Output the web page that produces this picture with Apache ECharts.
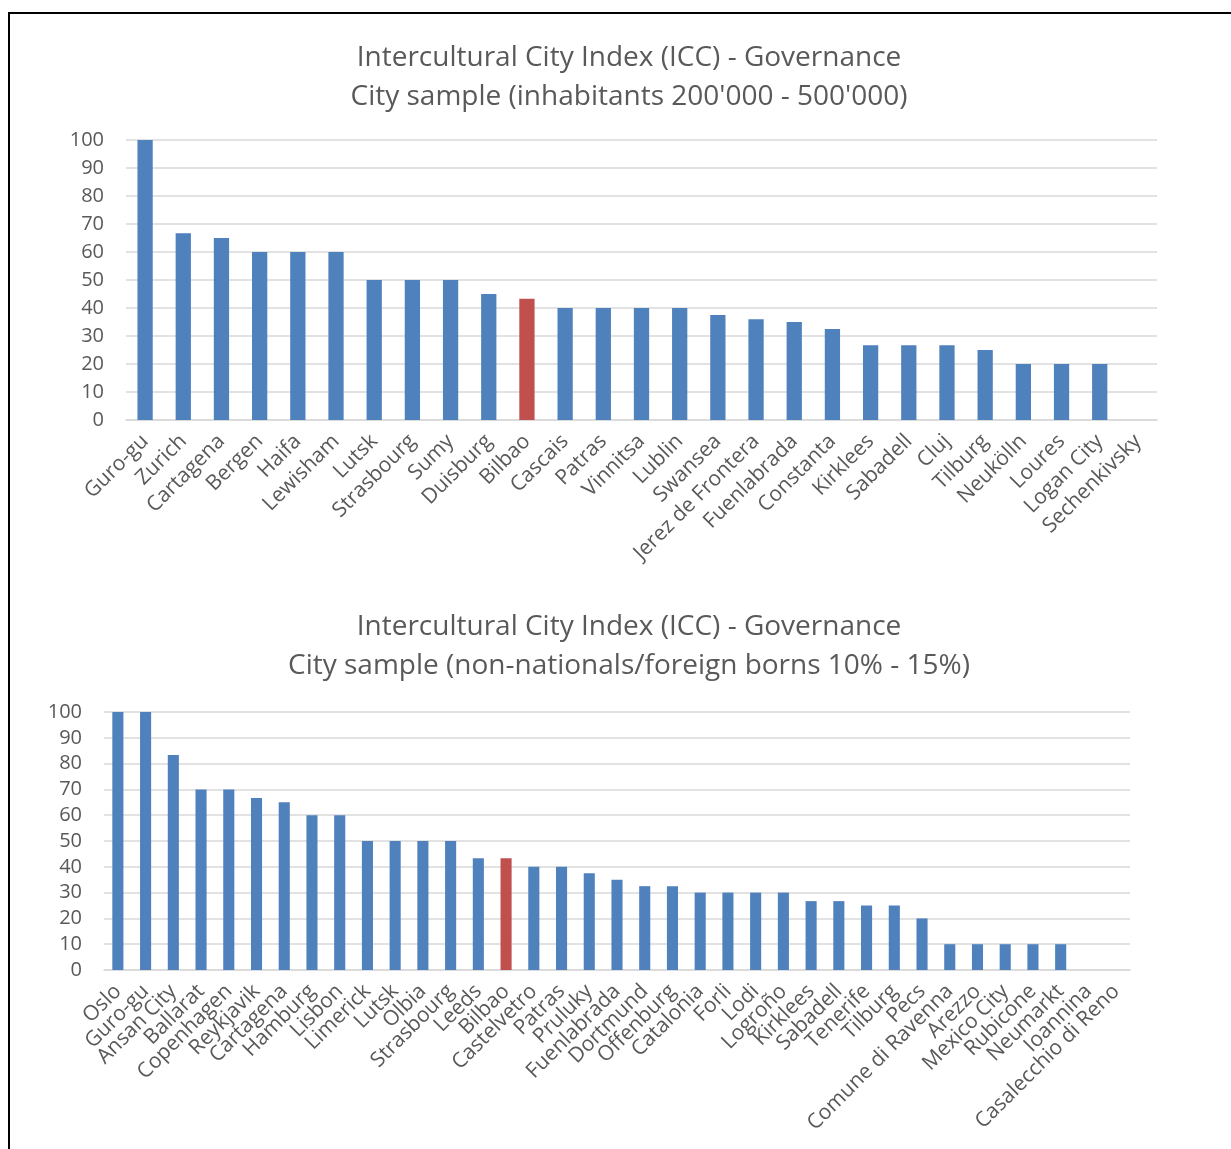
<!DOCTYPE html>
<html>
<head>
<meta charset="utf-8">
<title>Intercultural City Index (ICC) - Governance</title>
<script src="https://cdn.jsdelivr.net/npm/echarts@6/dist/echarts.min.js"></script>
<style>
  html, body { margin: 0; padding: 0; background: #ffffff; }
  #frame {
    position: absolute; left: 8px; top: 12px; right: 0; bottom: 0;
    border-top: 2px solid #000000; border-left: 2px solid #000000;
  }
  #chart { position: absolute; left: 0; top: 0; width: 1231px; height: 1149px; }
</style>
</head>
<body>
<div id="chart"></div>
<div id="frame"></div>
<script>
// Governance scores, cities of 200'000 - 500'000 inhabitants
const citiesBySize = ['Guro-gu', 'Zurich', 'Cartagena', 'Bergen', 'Haifa', 'Lewisham', 'Lutsk',
  'Strasbourg', 'Sumy', 'Duisburg', 'Bilbao', 'Cascais', 'Patras', 'Vinnitsa', 'Lublin', 'Swansea',
  'Jerez de Frontera', 'Fuenlabrada', 'Constanta', 'Kirklees', 'Sabadell', 'Cluj', 'Tilburg',
  'Neukölln', 'Loures', 'Logan City', 'Sechenkivsky'];
const scoresBySize = [100, 66.7, 65, 60, 60, 60, 50, 50, 50, 45, 43.3, 40, 40, 40, 40, 37.5,
  36, 35, 32.5, 26.7, 26.7, 26.7, 25, 20, 20, 20, 0];

// Governance scores, cities with 10% - 15% non-nationals/foreign borns
const citiesByForeign = ['Oslo', 'Guro-gu', 'Ansan City', 'Ballarat', 'Copenhagen', 'Reykjavik',
  'Cartagena', 'Hamburg', 'Lisbon', 'Limerick', 'Lutsk', 'Olbia', 'Strasbourg', 'Leeds', 'Bilbao',
  'Castelvetro', 'Patras', 'Pruluky', 'Fuenlabrada', 'Dortmund', 'Offenburg', 'Catalonia', 'Forli',
  'Lodi', 'Logroño', 'Kirklees', 'Sabadell', 'Tenerife', 'Tilburg', 'Pecs', 'Comune di Ravenna',
  'Arezzo', 'Mexico City', 'Rubicone', 'Neumarkt', 'Ioannina', 'Casalecchio di Reno'];
const scoresByForeign = [100, 100, 83.3, 70, 70, 66.7, 65, 60, 60, 50, 50, 50, 50, 43.3, 43.3,
  40, 40, 37.5, 35, 32.5, 32.5, 30, 30, 30, 30, 26.7, 26.7, 25, 25, 20, 10, 10, 10, 10, 10, 0, 0];

const yTicks = [0, 10, 20, 30, 40, 50, 60, 70, 80, 90, 100];
const highlightCity = 'Bilbao';

const BLUE = '#4F81BD';
const RED = '#C0504D';
const TEXT = '#595959';
const GRID = '#D9D9D9';
const FONT = '"Open Sans", "Noto Sans", sans-serif';

function barData(cities, scores) {
  return scores.map((v, i) => ({
    value: v,
    itemStyle: { color: cities[i] === highlightCity ? RED : BLUE }
  }));
}

function xAxis(gridIndex, cities) {
  return {
    type: 'category', gridIndex, data: cities,
    axisLine: { show: true, lineStyle: { color: GRID, width: 1.5 } },
    axisTick: { show: false },
    axisLabel: { interval: 0, rotate: 45, color: TEXT, fontFamily: FONT, fontSize: 21, margin: 18 }
  };
}

function yAxis(gridIndex) {
  return {
    type: 'value', gridIndex, min: yTicks[0], max: yTicks[yTicks.length - 1], interval: 10,
    axisLine: { show: false }, axisTick: { show: false },
    splitLine: { lineStyle: { color: GRID, width: 1.5 } },
    axisLabel: { color: TEXT, fontFamily: FONT, fontSize: 20, margin: 22 }
  };
}

const titleStyle = { color: TEXT, fontFamily: FONT, fontSize: 28, fontWeight: 'normal', lineHeight: 39 };

const chart = echarts.init(document.getElementById('chart'), null, { renderer: 'canvas' });
chart.setOption({
  backgroundColor: '#ffffff',
  animation: false,
  title: [
    {
      text: 'Intercultural City Index (ICC) - Governance\nCity sample (inhabitants 200\'000 - 500\'000)',
      left: 624, top: 34, textAlign: 'center', textStyle: titleStyle
    },
    {
      text: 'Intercultural City Index (ICC) - Governance\nCity sample (non-nationals/foreign borns 10% - 15%)',
      left: 624, top: 603, textAlign: 'center', textStyle: titleStyle
    }
  ],
  grid: [
    { left: 126, right: 74, top: 140, height: 280 },
    { left: 104, right: 101, top: 712, height: 258 }
  ],
  xAxis: [xAxis(0, citiesBySize), xAxis(1, citiesByForeign)],
  yAxis: [yAxis(0), yAxis(1)],
  series: [
    { type: 'bar', xAxisIndex: 0, yAxisIndex: 0, barWidth: '40%', data: barData(citiesBySize, scoresBySize) },
    { type: 'bar', xAxisIndex: 1, yAxisIndex: 1, barWidth: '40%', data: barData(citiesByForeign, scoresByForeign) }
  ]
});
</script>
</body>
</html>
